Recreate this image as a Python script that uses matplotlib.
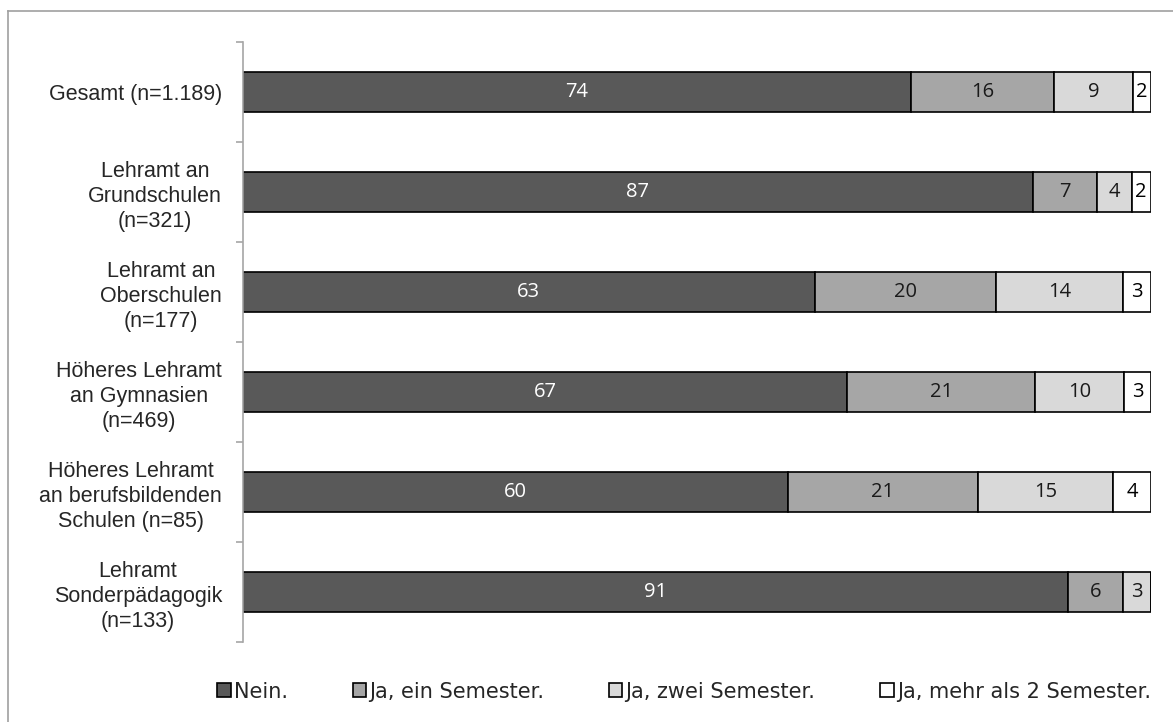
import matplotlib.pyplot as plt
from matplotlib.lines import Line2D
import numpy as np

categories = [
    "Gesamt (n=1.189)",
    "Lehramt an\nGrundschulen\n(n=321)",
    "Lehramt an\nOberschulen\n(n=177)",
    "Höheres Lehramt\nan Gymnasien\n(n=469)",
    "Höheres Lehramt\nan berufsbildenden\nSchulen (n=85)",
    "Lehramt\nSonderpädagogik\n(n=133)",
]
series = ["Nein.", "Ja, ein Semester.", "Ja, zwei Semester.", "Ja, mehr als 2 Semester."]
nein = [73.6, 87.0, 63.0, 66.6, 60.0, 90.9]
ein_sem = [15.8, 7.1, 20.0, 20.7, 21.0, 6.1]
zwei_sem = [8.6, 3.8, 14.0, 9.8, 14.9, 3.0]
mehr_sem = [2.0, 2.1, 3.0, 2.9, 4.1, 0.0]
labels = [
    [74, 87, 63, 67, 60, 91],
    [16, 7, 20, 21, 21, 6],
    [9, 4, 14, 10, 15, 3],
    [2, 2, 3, 3, 4, None],
]
colors = ["#595959", "#a6a6a6", "#d9d9d9", "#ffffff"]
text_colors = ["white", "#1a1a1a", "#1a1a1a", "black"]

fig = plt.figure(figsize=(11.73, 7.22), dpi=100)
ax = fig.add_axes([0.207, 0.111, 0.774, 0.831])

y = np.arange(len(categories))
left = np.zeros(len(categories))
for i, vals in enumerate([nein, ein_sem, zwei_sem, mehr_sem]):
    vals = np.array(vals)
    ax.barh(y, vals, left=left, height=0.4, color=colors[i],
            edgecolor="black", linewidth=1.2, label=series[i])
    for j, v in enumerate(vals):
        if labels[i][j] is not None and v > 0:
            ax.text(left[j] + v / 2, y[j], str(labels[i][j]), ha="center", va="center",
                    fontsize=14.5, color=text_colors[i], family="Open Sans")
    left += vals

ax.set_xlim(0, 100)
ax.set_ylim(len(categories) - 0.5, -0.5)
ax.set_yticks(y)
ax.set_yticklabels(categories, fontsize=15.5, family="Liberation Sans", color="#262626",
                   multialignment="center", linespacing=1.25, va="center_baseline")
ax.set_yticks(np.arange(-0.5, len(categories)), minor=True)
ax.tick_params(axis="y", which="major", length=0, pad=15)
ax.tick_params(axis="y", which="minor", length=5, color="#a6a6a6", width=1.2)
ax.set_xticks([])
for s in ["top", "right", "bottom"]:
    ax.spines[s].set_visible(False)
ax.spines["left"].set_color("#a6a6a6")
ax.spines["left"].set_linewidth(1.2)

ax.legend(loc="center", bbox_to_anchor=(0.486, -0.083), ncol=4, frameon=False,
          handlelength=0.65, handleheight=0.65, handletextpad=0.15, columnspacing=3.1,
          prop={"family": "DejaVu Sans", "size": 15}, labelcolor="#262626")

# outer frame, only left and top edges visible in the original
fig.add_artist(Line2D([8 / 1173, 8 / 1173], [0, 1 - 11 / 722], transform=fig.transFigure,
                      color="#a0a0a0", linewidth=1.2))
fig.add_artist(Line2D([8 / 1173, 1], [1 - 11 / 722, 1 - 11 / 722], transform=fig.transFigure,
                      color="#a0a0a0", linewidth=1.2))

fig.savefig("out.png", dpi=100)
